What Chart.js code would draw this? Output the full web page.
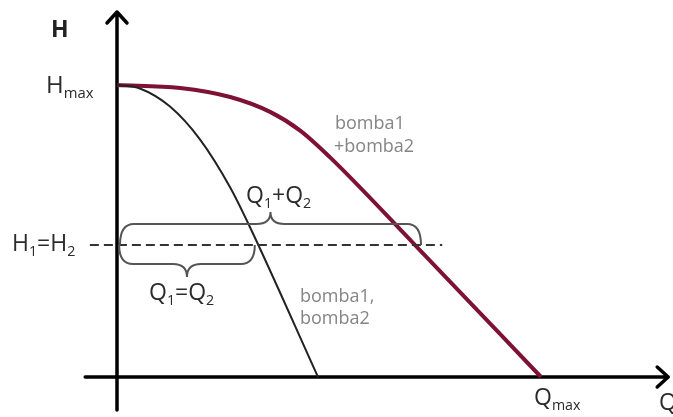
<!DOCTYPE html>
<html lang="it">
<head>
<meta charset="UTF-8">
<title>Bombe in parallelo</title>
<script src="https://cdn.jsdelivr.net/npm/chart.js"></script>
<style>
  html, body { margin: 0; padding: 0; background: #fff; }
  .wrap { width: 673px; height: 417px; position: relative; }
</style>
</head>
<body>
<div class="wrap"><canvas id="curve"></canvas></div>
<script>
// Q in % of Qmax, H in % of Hmax
const qSingle = [0, 5.4, 12.5, 19.6, 26.7, 31.4, 47.4];
const hSingle = [100, 98.8, 92.6, 81.3, 64.9, 51.2, 0];
const qParallel = [0, 14.9, 26.7, 36.1, 43.2, 50.2, 70.3, 100];
const hParallel = [100, 99.0, 95.9, 90.8, 84.4, 75.3, 45.2, 0];
const hWork = 45.2;
const qWorkLine = [-6.4, 76.7];
const braceBig = [0.7, 71.7];   // Q1+Q2
const braceSmall = [0.5, 32.5]; // Q1=Q2

const FONT = '"Open Sans", sans-serif';
const toPts = (qs, hs) => qs.map((q, i) => ({ x: q, y: hs[i] }));

function richText(ctx, parts, x, y, size, color, weight) {
  let cx = x;
  parts.forEach(([t, sub]) => {
    const fs = sub ? size * 0.62 : size;
    ctx.font = `${weight || 'normal'} ${fs}px ${FONT}`;
    ctx.fillStyle = color;
    ctx.fillText(t, cx, sub ? y + size * 0.22 : y);
    cx += ctx.measureText(t).width;
  });
}

function brace(ctx, x1, x2, yEnd, yFlat, yTip) {
  const xm = (x1 + x2) / 2, r = 14;
  ctx.beginPath();
  ctx.moveTo(x1, yEnd);
  ctx.quadraticCurveTo(x1, yFlat, x1 + r, yFlat);
  ctx.lineTo(xm - r, yFlat);
  ctx.quadraticCurveTo(xm, yFlat, xm, yTip);
  ctx.quadraticCurveTo(xm, yFlat, xm + r, yFlat);
  ctx.lineTo(x2 - r, yFlat);
  ctx.quadraticCurveTo(x2, yFlat, x2, yEnd);
  ctx.stroke();
}

const decor = {
  id: 'decor',
  beforeDatasetsDraw(chart) {
    const { ctx, scales: { x, y } } = chart;
    const x0 = x.getPixelForValue(0), y0 = y.getPixelForValue(0);
    ctx.save();
    ctx.strokeStyle = '#000';
    ctx.lineWidth = 3.5;
    ctx.lineCap = 'round';
    ctx.lineJoin = 'round';
    // vertical axis
    const yTop = y.getPixelForValue(125), yBot = y.getPixelForValue(-11.3);
    ctx.beginPath();
    ctx.moveTo(x0, yBot); ctx.lineTo(x0, yTop);
    ctx.moveTo(x0 - 10, yTop + 11); ctx.lineTo(x0, yTop); ctx.lineTo(x0 + 10, yTop + 11);
    ctx.stroke();
    // horizontal axis
    const xL = x.getPixelForValue(-7.5), xR = x.getPixelForValue(130);
    ctx.beginPath();
    ctx.moveTo(xL, y0); ctx.lineTo(xR, y0);
    ctx.moveTo(xR - 11, y0 - 10); ctx.lineTo(xR, y0); ctx.lineTo(xR - 11, y0 + 10);
    ctx.stroke();
    ctx.restore();
  },
  afterDatasetsDraw(chart) {
    const { ctx, scales: { x, y } } = chart;
    const yw = y.getPixelForValue(hWork);
    ctx.save();
    ctx.strokeStyle = '#555';
    ctx.lineWidth = 2;
    brace(ctx, x.getPixelForValue(braceBig[0]), x.getPixelForValue(braceBig[1]), yw, yw - 21, yw - 33);
    brace(ctx, x.getPixelForValue(braceSmall[0]), x.getPixelForValue(braceSmall[1]), yw, yw + 19, yw + 32);

    ctx.textBaseline = 'alphabetic';
    const dark = '#2b2b2b';
    richText(ctx, [['H']], 51, 37, 23, '#222', 'bold');
    richText(ctx, [['H'], ['max', true]], 46, 93, 24, dark);
    richText(ctx, [['H'], ['1', true], ['=H'], ['2', true]], 12, 251, 23, dark);
    richText(ctx, [['Q'], ['1', true], ['+Q'], ['2', true]], 246, 203, 23, dark);
    richText(ctx, [['Q'], ['1', true], ['=Q'], ['2', true]], 149, 300, 23, dark);
    richText(ctx, [['Q'], ['max', true]], 534, 405, 23, dark);
    richText(ctx, [['Q']], 659, 410, 23, dark);

    const grey = '#858585';
    richText(ctx, [['bomba1']], 335, 129, 18, grey);
    richText(ctx, [['+bomba2']], 334, 152, 18, grey);
    richText(ctx, [['bomba1,']], 300, 302, 18, grey);
    richText(ctx, [['bomba2']], 300, 324, 18, grey);
    ctx.restore();
  }
};

new Chart(document.getElementById('curve'), {
  type: 'scatter',
  data: {
    datasets: [
      {
        label: 'H1=H2',
        data: toPts(qWorkLine, [hWork, hWork]),
        showLine: true, borderColor: '#333', borderWidth: 2.2,
        borderDash: [9, 5], pointRadius: 0
      },
      {
        label: 'bomba1, bomba2',
        data: toPts(qSingle, hSingle),
        showLine: true, borderColor: '#222', borderWidth: 2,
        cubicInterpolationMode: 'monotone', pointRadius: 0
      },
      {
        label: 'bomba1 + bomba2',
        data: toPts(qParallel, hParallel),
        showLine: true, borderColor: '#7d1234', borderWidth: 4,
        cubicInterpolationMode: 'monotone', pointRadius: 0
      }
    ]
  },
  options: {
    responsive: true,
    maintainAspectRatio: false,
    animation: false,
    layout: { padding: 0 },
    plugins: { legend: { display: false }, tooltip: { enabled: false } },
    scales: {
      x: { type: 'linear', display: false, min: -27.594, max: 131.13 },
      y: { type: 'linear', display: false, min: -13.70, max: 129.11 }
    }
  },
  plugins: [decor]
});
</script>
</body>
</html>
